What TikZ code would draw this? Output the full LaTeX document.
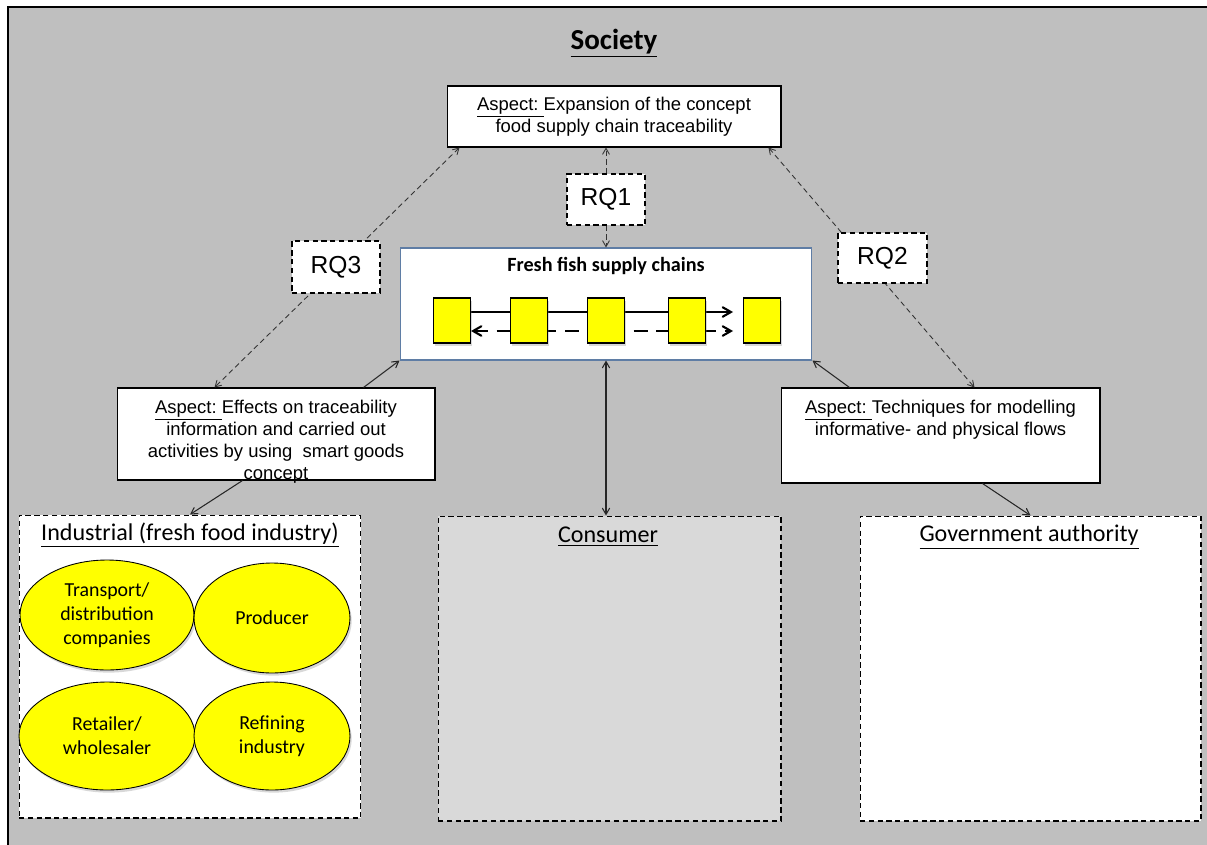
\documentclass[tikz,border=0pt]{standalone}
\usepackage{fontspec}
\setmainfont{Liberation Sans}
\newfontfamily\calibri{Carlito}
\usepackage{tikz}
\usetikzlibrary{arrows, calc, shapes.geometric, shadows}
\pgfdeclarelayer{front}
\pgfsetlayers{main,front}
\definecolor{societygray}{HTML}{BFBFBF}
\definecolor{consumergray}{HTML}{D9D9D9}
\definecolor{fishblue}{RGB}{95,125,165}
\definecolor{chainyellow}{HTML}{FFFF00}
\tikzset{
aspect/.style={draw=black, fill=white, line width=0.6pt, inner sep=0pt, align=center, font=\fontsize{10.5}{12.5}\selectfont}, % the white aspect boxes
aspecttext/.style={inner sep=0pt, align=center, font=\fontsize{10.5}{12.5}\selectfont}, % text hanging from the top of a box
rq/.style={draw=black, fill=white, densely dashed, line width=0.6pt, inner sep=0pt, font=\fontsize{14}{16}\selectfont}, % research questions
party/.style={draw=black, densely dashed, line width=0.6pt, inner sep=0pt}, % the three parties at the bottom
partyhead/.style={inner sep=0pt, font=\calibri\fontsize{13.7}{16}\selectfont},
actor/.style={ellipse, draw=black, fill=chainyellow, line width=0.5pt, inner sep=0pt, align=center, font=\calibri\fontsize{11.3}{13.5}\selectfont, drop shadow={shadow xshift=1pt, shadow yshift=-1.5pt, opacity=0.3}},
link/.style={draw=black, fill=chainyellow, line width=0.6pt, inner sep=0pt, minimum width=0.74cm, minimum height=0.9cm, drop shadow={shadow xshift=1pt, shadow yshift=-1.5pt, opacity=0.3}},
ask/.style={densely dashed, line width=0.5pt, draw=black!80}, % dashed research question arrows
flow/.style={line width=0.6pt, draw=black!85},
}

\begin{document}
\begin{tikzpicture}[x=0.02cm, y=-0.02cm, >=angle 60]
    %% one unit is one pixel of the drawing, and y runs downwards
    \useasboundingbox (0,0) rectangle (1207,845);
    \draw[fill=societygray, line width=1.2pt] (8,7) rectangle (1230,870);
    \node[inner sep=0pt, font=\calibri\bfseries\fontsize{16.5}{18}\selectfont] (society) at (614,43) {\underline{Society}};

    %% the aspects
    \node[aspect, minimum width=6.68cm, minimum height=1.22cm] (expansion) at (614,116.5) {\underline{Aspect:\ }Expansion of the concept\\ food supply chain traceability};
    \node[aspect, minimum width=6.36cm, minimum height=1.84cm] (effects) at (276,434) {};
    \node[aspecttext, anchor=north] (effectstext) at ($(effects.north)+(0,12)$) {\underline{Aspect:\ }Effects on traceability\\ information and carried out\\ activities by using \ smart goods\\ concept};
    \node[aspect, minimum width=6.38cm, minimum height=1.9cm] (techniques) at (940.5,435.5) {};
    \node[aspecttext, anchor=north] (techniquestext) at ($(techniques.north)+(0,12)$) {\underline{Aspect:\ }Techniques for modelling\\ informative- and physical flows};

    %% the fresh fish chain
    \node[draw=fishblue, fill=white, line width=0.6pt, minimum width=8.24cm, minimum height=2.24cm] (fish) at (606,304) {};
    \node[inner sep=0pt, font=\calibri\bfseries\fontsize{11.5}{13}\selectfont] (fishtitle) at (606,266) {Fresh fish supply chains};
    \begin{pgfonlayer}{front}
        \foreach \x [count=\i] in {452,529,606,687,762}
            \node[link] (s\i) at (\x,320.5) {};
    \end{pgfonlayer}
    \draw[->, line width=1.2pt] ($(s1.east)+(0,-8.5)$) -- ($(s4.east)+(27,-8.5)$);
    \draw[<->, line width=1.2pt, dash pattern=on 8pt off 5pt] ($(s1.east)+(0,10.5)$) -- ($(s4.east)+(27,10.5)$);

    %% the parties
    \node[party, fill=white, minimum width=6.84cm, minimum height=6.06cm] (industrial) at (190,666.5) {};
    \node[partyhead] (industrialhead) at (190,535) {\underline{Industrial (fresh food industry)}};
    \node[party, fill=consumergray, minimum width=6.86cm, minimum height=6.1cm] (consumer) at (609.5,668.5) {};
    \node[partyhead] (consumerhead) at (608,537) {\underline{Consumer}};
    \node[party, fill=white, minimum width=6.82cm, minimum height=6.1cm] (government) at (1030.5,668.5) {};
    \node[partyhead] (governmenthead) at (1029,537) {\underline{Government authority}};

    \node[actor, minimum width=3.48cm, minimum height=2.2cm] (transport) at (107,615) {Transport/\\ distribution\\ companies};
    \node[actor, minimum width=3.12cm, minimum height=2.2cm] (producer) at (272,618) {Producer};
    \node[actor, minimum width=3.52cm, minimum height=2.16cm] (retailer) at (107,736) {Retailer/\\ wholesaler};
    \node[actor, minimum width=3.12cm, minimum height=2.16cm] (refining) at (272,736) {Refining\\ industry};

    %% research questions, the boxes sit on top of their lines
    \node[rq, minimum width=1.56cm, minimum height=1.02cm] (rqone) at (606,199.5) {RQ1};
    \draw[ask, ->] (rqone) -- (rqone |- expansion.south);
    \draw[ask, ->] (rqone) -- (rqone |- fish.north);
    \draw[ask, <->] ($(expansion.south west)+(13,0)$) -- ($(effects.north west)+(98,0)$);
    \draw[ask, <->] ($(expansion.south east)+(-13,0)$) -- ($(techniques.north west)+(194,0)$);
    \node[rq, minimum width=1.76cm, minimum height=1.04cm] (rqthree) at (336,267) {RQ3};
    \node[rq, minimum width=1.78cm, minimum height=1.0cm] (rqtwo) at (882.5,258) {RQ2};

    %% solid flows
    \draw[flow, ->] ($(effects.north east)+(-72,0)$) -- (fish.south west);
    \draw[flow, ->] ($(techniques.north west)+(69,0)$) -- (fish.south east);
    \draw[flow, <->] (fish.south) -- (fish.south |- consumer.north);
    \draw[flow, ->] ($(effects.south west)+(126,0)$) -- (industrial.north);
    \draw[flow, ->] ($(techniques.south west)+(202,0)$) -- (government.north);
\end{tikzpicture}
\end{document}
